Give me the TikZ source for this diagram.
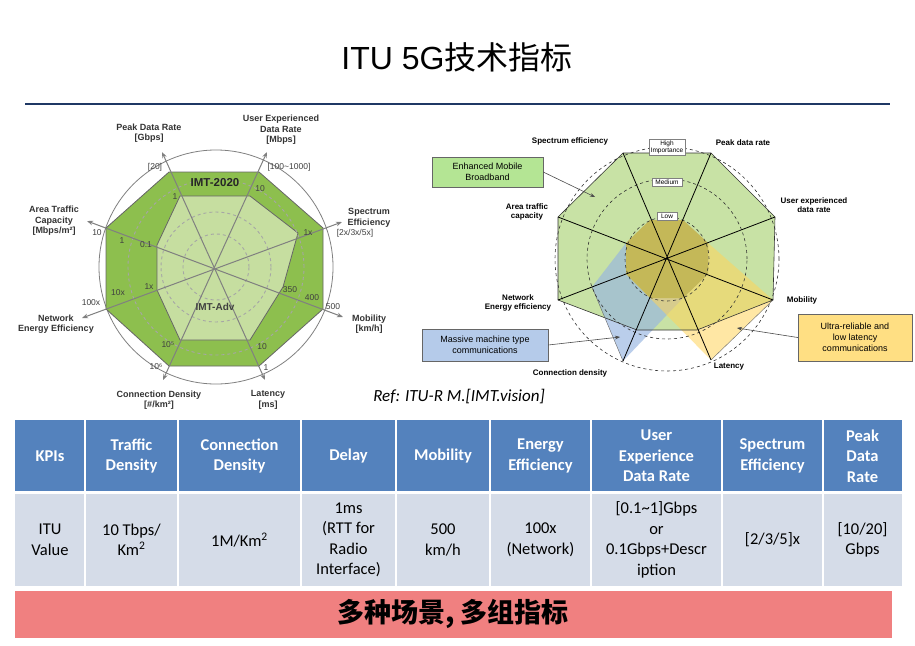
\documentclass[tikz,border=0pt]{standalone}
\usepackage{fontspec}
\setmainfont{Carlito}
\newfontfamily\arialf{Liberation Sans}
\newfontfamily\cjk{Noto Sans CJK SC}
\usetikzlibrary{arrows.meta}
\definecolor{darkg}{RGB}{141,191,78}
\definecolor{lightg}{RGB}{198,222,160}
\definecolor{embb}{RGB}{200,226,165}
\definecolor{mmtc}{RGB}{150,180,225}
\definecolor{urllc}{RGB}{255,212,90}
\definecolor{olive}{RGB}{196,184,88}
\definecolor{hdr}{RGB}{84,130,189}
\definecolor{body}{RGB}{213,220,232}
\definecolor{banner}{RGB}{240,128,128}
\definecolor{rule}{RGB}{31,56,100}
\tikzset{
 lab/.style={font=\arialf\bfseries\fontsize{9}{10.5}\selectfont,align=center,text=black!80,inner sep=0pt},
 val/.style={font=\arialf\fontsize{8.5}{9}\selectfont,text=black!75,inner sep=0pt},
 rlab/.style={font=\arialf\bfseries\fontsize{8}{9.5}\selectfont,align=center,inner sep=0pt},
 imp/.style={draw=gray,fill=white,font=\arialf\fontsize{6.5}{7}\selectfont,align=center,inner sep=1.5pt,minimum width=30pt},
 callout/.style={draw=gray!80!black,font=\arialf\fontsize{9}{11}\selectfont,align=center,inner sep=0pt},
 cell/.style={font=\fontsize{16.5}{20.5}\selectfont,align=center,inner sep=0pt},
 hcell/.style={cell,text=white,font=\bfseries\fontsize{16.5}{20.5}\selectfont},
 ax/.style={gray,line width=1pt,{Stealth[length=6pt]}-{Stealth[length=6pt]}},
 cl/.style={draw=black!70,-{Stealth[length=5pt]},line width=0.6pt}
}
\begin{document}
\begin{tikzpicture}[x=1pt,y=-1pt]
\useasboundingbox (0,0) rectangle (915,645);
\fill[white] (0,0) rectangle (915,645);
% title
\node[font=\arialf\fontsize{32}{36}\selectfont] (title) at (457,57) {ITU 5G\cjk 技术指标};
\draw[rule,line width=2.5pt] (25,104) -- (890,104);

% ---------- left radar ----------
\coordinate (lc) at (216,267);
\draw[gray,line width=0.8pt] (lc) circle[radius=117pt];
\draw[black!60,fill=darkg,line width=0.8pt] (169,172)--(259,172)--(323,228)--(323,309)--(259,366)--(169,366)--(106,309)--(106,228)--cycle;
\draw[black!60,fill=lightg,line width=0.8pt] (180,196)--(250,196)--(298,233)--(283,287)--(250,340)--(180,340)--(157,290)--(157,245)--cycle;
\foreach \r in {33,55,88} \draw[gray!70,dashed,line width=0.9pt] (lc) circle[radius=\r pt];
\coordinate (aPk) at (162,152); \coordinate (aLa) at (265,380);
\coordinate (aUs) at (267,152); \coordinate (aCo) at (163,380);
\coordinate (aSp) at (342,222); \coordinate (aNe) at (82,318);
\coordinate (aMo) at (343,317); \coordinate (aAr) at (87,221);
\draw[ax] (aPk) -- (aLa);
\draw[ax] (aUs) -- (aCo);
\draw[ax] (aSp) -- (aNe);
\draw[ax] (aMo) -- (aAr);
\node[lab] (l1) at (149,133) {Peak Data Rate\\{}[Gbps]};
\node[lab] (l2) at (281,130) {User Experienced\\Data Rate\\{}[Mbps]};
\node[lab] (l3) at (369,218) {Spectrum\\Efficiency};
\node[val] (l3b) at (355,233) {[2x/3x/5x]};
\node[lab] (l4) at (54,221) {Area Traffic\\Capacity\\{}[Mbps/m²]};
\node[lab] (l5) at (56,324) {Network\\Energy Efficiency};
\node[lab] (l6) at (369,324) {Mobility\\{}[km/h]};
\node[lab] (l7) at (159,400) {Connection Density\\{}[\#/km²]};
\node[lab] (l8) at (268,400) {Latency\\{}[ms]};
\node[val] (v1) at (155,167) {[20]};
\node[val] (v2) at (289,167) {[100\textasciitilde1000]};
\node[val] (v3) at (97,233) {10};
\node[val] (v4) at (91,303) {100x};
\node[val] (v5) at (333,307) {500};
\node[val] (v6) at (156,367) {10⁶};
\node[val] (v7) at (266,368) {1};
\node[val] (w1) at (175,197) {1};
\node[val] (w2) at (260,189) {10};
\node[val] (w3) at (308,233) {1x};
\node[val] (w4) at (290,290) {350};
\node[val] (w5) at (312,298) {400};
\node[val] (w6) at (262,347) {10};
\node[val] (w7) at (168,345) {10⁵};
\node[val] (w8) at (118,293) {10x};
\node[val] (w9) at (149,287) {1x};
\node[val] (w10) at (146,245) {0.1};
\node[val] (w11) at (122,241) {1};
\node[font=\arialf\bfseries\fontsize{11.5}{12}\selectfont,text=black!85] (imt1) at (215,183) {IMT-2020};
\node[font=\arialf\bfseries\fontsize{10}{11}\selectfont,text=black!75] (imt2) at (215,307) {IMT-Adv};

% ---------- right radar ----------
\coordinate (rc) at (667,259);
\fill[embb] (623,153)--(711,153)--(775,217)--(773,300)--(697,330)--(637,330)--(558,300)--(558,217)--cycle;
\fill[mmtc,fill opacity=0.65] (650,220)--(683,220)--(708,243)--(708,274)--(683,298)--(623,361)--(592,287)--(626,243)--cycle;
\fill[urllc,fill opacity=0.55] (650,220)--(683,220)--(708,243)--(773,300)--(711,360)--(650,298)--(626,274)--(626,243)--cycle;
\fill[olive] (650,220)--(683,220)--(708,243)--(708,274)--(683,298)--(650,298)--(626,274)--(626,243)--cycle;
\draw[black!80,line width=0.6pt] (623,153)--(711,153)--(775,217)--(773,300)--(697,330)--(637,330)--(558,300)--(558,217)--cycle;
\draw[black!60,line width=0.4pt] (773,300)--(711,360) (623,361)--(592,287);
\foreach \r in {42,80,112} \draw[black!80,dashed,line width=0.6pt] (rc) circle[radius=\r pt];
\draw[black,line width=0.8pt] (623,153)--(711,360) (711,153)--(623,361) (775,217)--(558,300) (558,217)--(773,300);
\node[imp] (hi) at (667,147) {High\\Importance};
\node[imp] (me) at (667,182) {Medium};
\node[imp,minimum width=20pt] (lo) at (667,216) {Low};
\node[rlab] (r1) at (570,141) {Spectrum efficiency};
\node[rlab] (r2) at (743,143) {Peak data rate};
\node[rlab] (r3) at (814,205) {User experienced\\data rate};
\node[rlab] (r4) at (527,212) {Area traffic\\capacity};
\node[rlab] (r5) at (802,300) {Mobility};
\node[rlab] (r6) at (518,303) {Network\\Energy efficiency};
\node[rlab] (r7) at (570,373) {Connection density};
\node[rlab] (r8) at (729,367) {Latency};
\node[callout,fill=embb!90!green,minimum width=111pt,minimum height=30pt] (cb1) at (487.5,172) {Enhanced Mobile\\Broadband};
\node[callout,fill=mmtc!70!white,minimum width=126pt,minimum height=32pt] (cb2) at (485,345) {Massive machine type\\communications};
\node[callout,fill=urllc!75!white,minimum width=114pt,minimum height=47pt] (cb3) at (855,337.5) {Ultra-reliable and\\low latency\\communications};
\coordinate (t1) at (595,197); \coordinate (t2) at (620,337); \coordinate (t3) at (737,328);
\draw[cl] (cb1.east) -- (t1);
\draw[cl] (cb2.east) -- (t2);
\draw[cl] (cb3.west) -- (t3);

\node[font=\itshape\fontsize{17}{20}\selectfont] (ref) at (459,397) {Ref: ITU-R M.[IMT.vision]};

% ---------- table ----------
\fill[hdr] (15,420) rectangle (902,491);
\fill[body] (15,494) rectangle (902,586);
\foreach \x in {85,178,301,396,490,591,722,823} \draw[white,line width=1.5pt] (\x,420) -- (\x,586);
\draw[white,line width=3pt] (15,492.5) -- (902,492.5);
\node[hcell] (h1) at (50,456) {KPIs};
\node[hcell] (h2) at (131.5,456) {Traffic\\Density};
\node[hcell] (h3) at (239.5,456) {Connection\\Density};
\node[hcell] (h4) at (348.5,456) {Delay};
\node[hcell] (h5) at (443,456) {Mobility};
\node[hcell] (h6) at (540.5,456) {Energy\\Efficiency};
\node[hcell] (h7) at (656.5,456) {User\\Experience\\Data Rate};
\node[hcell] (h8) at (772.5,456) {Spectrum\\Efficiency};
\node[hcell] (h9) at (862.5,456) {Peak\\Data\\Rate};
\node[cell] (b1) at (50,540) {ITU\\Value};
\node[cell] (b2) at (131.5,540) {10 Tbps/\\Km\textsuperscript{2}};
\node[cell] (b3) at (239.5,540) {1M/Km\textsuperscript{2}};
\node[cell] (b4) at (348.5,540) {1ms\\(RTT for\\Radio\\Interface)};
\node[cell] (b5) at (443,540) {500\\km/h};
\node[cell] (b6) at (540.5,540) {100x\\(Network)};
\node[cell] (b7) at (656.5,540) {[0.1\textasciitilde1]Gbps\\or\\0.1Gbps+Descr\\iption};
\node[cell] (b8) at (772.5,540) {[2/3/5]x};
\node[cell] (b9) at (862.5,540) {[10/20]\\Gbps};
% banner
\fill[banner] (15,591) rectangle (892,638);
\node[font=\cjk\bfseries\fontsize{27}{30}\selectfont] (ban) at (453,614) {多种场景, 多组指标};
\end{tikzpicture}
\end{document}
